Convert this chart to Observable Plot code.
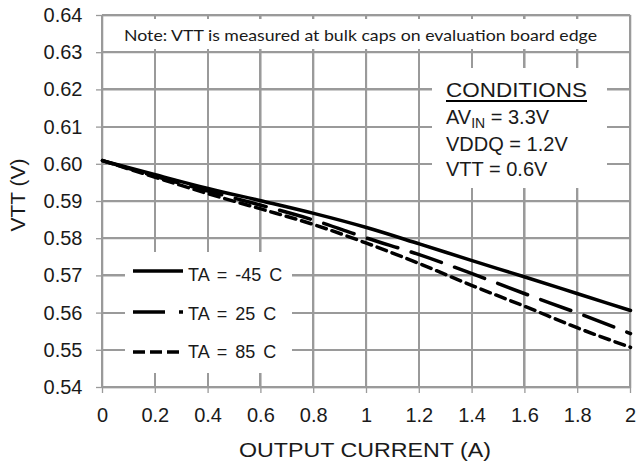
<!DOCTYPE html>
<html>
<head>
<meta charset="utf-8">
<script src="https://cdn.jsdelivr.net/npm/d3@7"></script>
<script src="https://cdn.jsdelivr.net/npm/@observablehq/plot@0.6"></script>
<style>
  html, body { margin: 0; padding: 0; background: #fff; }
  #chart svg [aria-label*="axis"] path,
  #chart svg [aria-label*="axis"] line { stroke: #9a9a9a; stroke-width: 1.3px; stroke-opacity: 1; }
</style>
</head>
<body>
<div id="chart"></div>
<script>
// ---- data ----
const current = [0, 0.2, 0.4, 0.6, 0.8, 1.0, 1.2, 1.4, 1.6, 1.8, 2.0];
const vttMinus45 = [0.6010, 0.5972, 0.5935, 0.5902, 0.5868, 0.5830, 0.5786, 0.5741, 0.5697, 0.5652, 0.5607];
const vtt25      = [0.6010, 0.5968, 0.5928, 0.5890, 0.5850, 0.5802, 0.5757, 0.5706, 0.5652, 0.5600, 0.5545];
const vtt85      = [0.6010, 0.5965, 0.5921, 0.5880, 0.5838, 0.5788, 0.5733, 0.5674, 0.5618, 0.5560, 0.5508];
const seriesNames = ["TA = -45 C", "TA = 25 C", "TA = 85 C"];
const xTicks = [0, 0.2, 0.4, 0.6, 0.8, 1, 1.2, 1.4, 1.6, 1.8, 2];
const xTickLabels = ["0", "0.2", "0.4", "0.6", "0.8", "1", "1.2", "1.4", "1.6", "1.8", "2"];
const yTicks = [0.54, 0.55, 0.56, 0.57, 0.58, 0.59, 0.60, 0.61, 0.62, 0.63, 0.64];
const yTickLabels = ["0.54", "0.55", "0.56", "0.57", "0.58", "0.59", "0.60", "0.61", "0.62", "0.63", "0.64"];
const xTitle = "OUTPUT CURRENT (A)";
const yTitle = "VTT (V)";
const noteText = "Note: VTT is measured at bulk caps on evaluation board edge";
const conditionsTitle = "CONDITIONS";
const conditionLines = [["AV", "IN", " = 3.3V"], ["VDDQ = 1.2V"], ["VTT = 0.6V"]];

// ---- styles ----
const dashPatterns = [null, "32,14", "10,6"];
const lineWidth = 3.5;
const gridColor = "#9a9a9a";

const seriesValues = [vttMinus45, vtt25, vtt85];
const rows = seriesValues.map((vals, k) => current.map((x, i) => ({x, y: vals[i], s: seriesNames[k]})));
const xLab = new Map(xTicks.map((t, i) => [t, xTickLabels[i]]));
const yLab = new Map(yTicks.map((t, i) => [t, yTickLabels[i]]));

const W = 637, H = 464;
const svg = Plot.plot({
  width: W, height: H,
  marginLeft: 102, marginRight: 7, marginTop: 15, marginBottom: 77,
  style: {fontFamily: "'Liberation Sans', Arial, sans-serif", fontSize: "20px", color: "#1a1a1a", background: "#fff", overflow: "visible"},
  x: {domain: [0, 2], ticks: xTicks, tickFormat: d => xLab.get(d), tickSize: 6, tickPadding: 14, label: null},
  y: {domain: [0.54, 0.64], ticks: yTicks, tickFormat: d => yLab.get(d), tickSize: 6, tickPadding: 14, label: null},
  marks: [
    Plot.ruleX(xTicks, {x: d => d, stroke: gridColor, strokeWidth: 1.3, strokeOpacity: 1}),
    Plot.ruleY(yTicks, {y: d => d, stroke: gridColor, strokeWidth: 1.3, strokeOpacity: 1}),
    Plot.frame({stroke: gridColor, strokeWidth: 1.3}),
    ...rows.map((r, k) => Plot.line(r, {
      x: "x", y: "y", stroke: "#000", strokeWidth: lineWidth,
      strokeDasharray: dashPatterns[k] || undefined, curve: "monotone-x"
    }))
  ]
});
document.getElementById("chart").appendChild(svg);

// ---- backup grid as thin filled bars via the plot's own scales, under the curves ----
const sx = svg.scale("x"), sy = svg.scale("y");
const firstLine = svg.querySelector('g[aria-label="line"]');
const gridG = d3.create("svg:g").attr("fill", gridColor).attr("shape-rendering", "crispEdges");
const gTop = sy.apply(0.64), gBottom = sy.apply(0.54), gLeft = sx.apply(0), gRight = sx.apply(2);
xTicks.forEach(t => gridG.append("rect").attr("x", Math.round(sx.apply(t)) - 1).attr("y", gTop).attr("width", 1.5).attr("height", gBottom - gTop));
yTicks.forEach(t => gridG.append("rect").attr("y", Math.round(sy.apply(t)) - 1).attr("x", gLeft).attr("height", 1.5).attr("width", gRight - gLeft));
if (firstLine) svg.insertBefore(gridG.node(), firstLine);

// ---- annotations (titles, note, conditions, legend) ----
const g = d3.select(svg).append("g")
  .attr("font-family", "'Liberation Sans', Arial, sans-serif")
  .attr("fill", "#1a1a1a").attr("text-anchor", "start");

g.append("text").attr("x", 365).attr("y", 457).attr("text-anchor", "middle")
  .attr("font-size", 21).attr("textLength", 252).attr("lengthAdjust", "spacingAndGlyphs").text(xTitle);
g.append("text").attr("transform", "translate(25,195) rotate(-90)").attr("text-anchor", "middle")
  .attr("font-size", 21).text(yTitle);

g.append("rect").attr("x", 105).attr("y", 19).attr("width", 522).attr("height", 30).attr("fill", "#fff");
g.append("text").attr("x", 124).attr("y", 41).attr("font-family", "Lato, 'Open Sans', sans-serif")
  .attr("font-size", 15).attr("textLength", 473).attr("lengthAdjust", "spacingAndGlyphs").text(noteText);

g.append("rect").attr("x", 432).attr("y", 68).attr("width", 175).attr("height", 120).attr("fill", "#fff");
g.append("text").attr("x", 446).attr("y", 97).attr("font-size", 20).attr("textLength", 141).attr("lengthAdjust", "spacingAndGlyphs").text(conditionsTitle);
g.append("line").attr("x1", 446).attr("x2", 587).attr("y1", 101).attr("y2", 101).attr("stroke", "#000").attr("stroke-width", 2);
const condY = [124, 151, 176];
conditionLines.forEach((parts, i) => {
  const t = g.append("text").attr("x", 446).attr("y", condY[i]).attr("font-size", 20);
  if (parts.length === 3) {
    t.append("tspan").text(parts[0]);
    t.append("tspan").attr("font-size", 14).attr("dy", 4).text(parts[1]);
    t.append("tspan").attr("dy", -4).text(parts[2]);
  } else {
    t.text(parts[0]);
  }
});

g.append("rect").attr("x", 125).attr("y", 252).attr("width", 167).attr("height", 121).attr("fill", "#fff");
const legLineY = [271, 312, 352];
const legTextY = [281, 320, 358];
seriesNames.forEach((name, k) => {
  const ln = g.append("line").attr("x1", 133).attr("x2", 183).attr("y1", legLineY[k]).attr("y2", legLineY[k])
    .attr("stroke", "#000").attr("stroke-width", lineWidth);
  if (k > 0) ln.attr("stroke-dasharray", k === 2 ? "12,5" : dashPatterns[k]);
  g.append("text").attr("x", 188).attr("y", legTextY[k]).attr("font-size", 18).attr("word-spacing", 3).text(name);
});
</script>
</body>
</html>
